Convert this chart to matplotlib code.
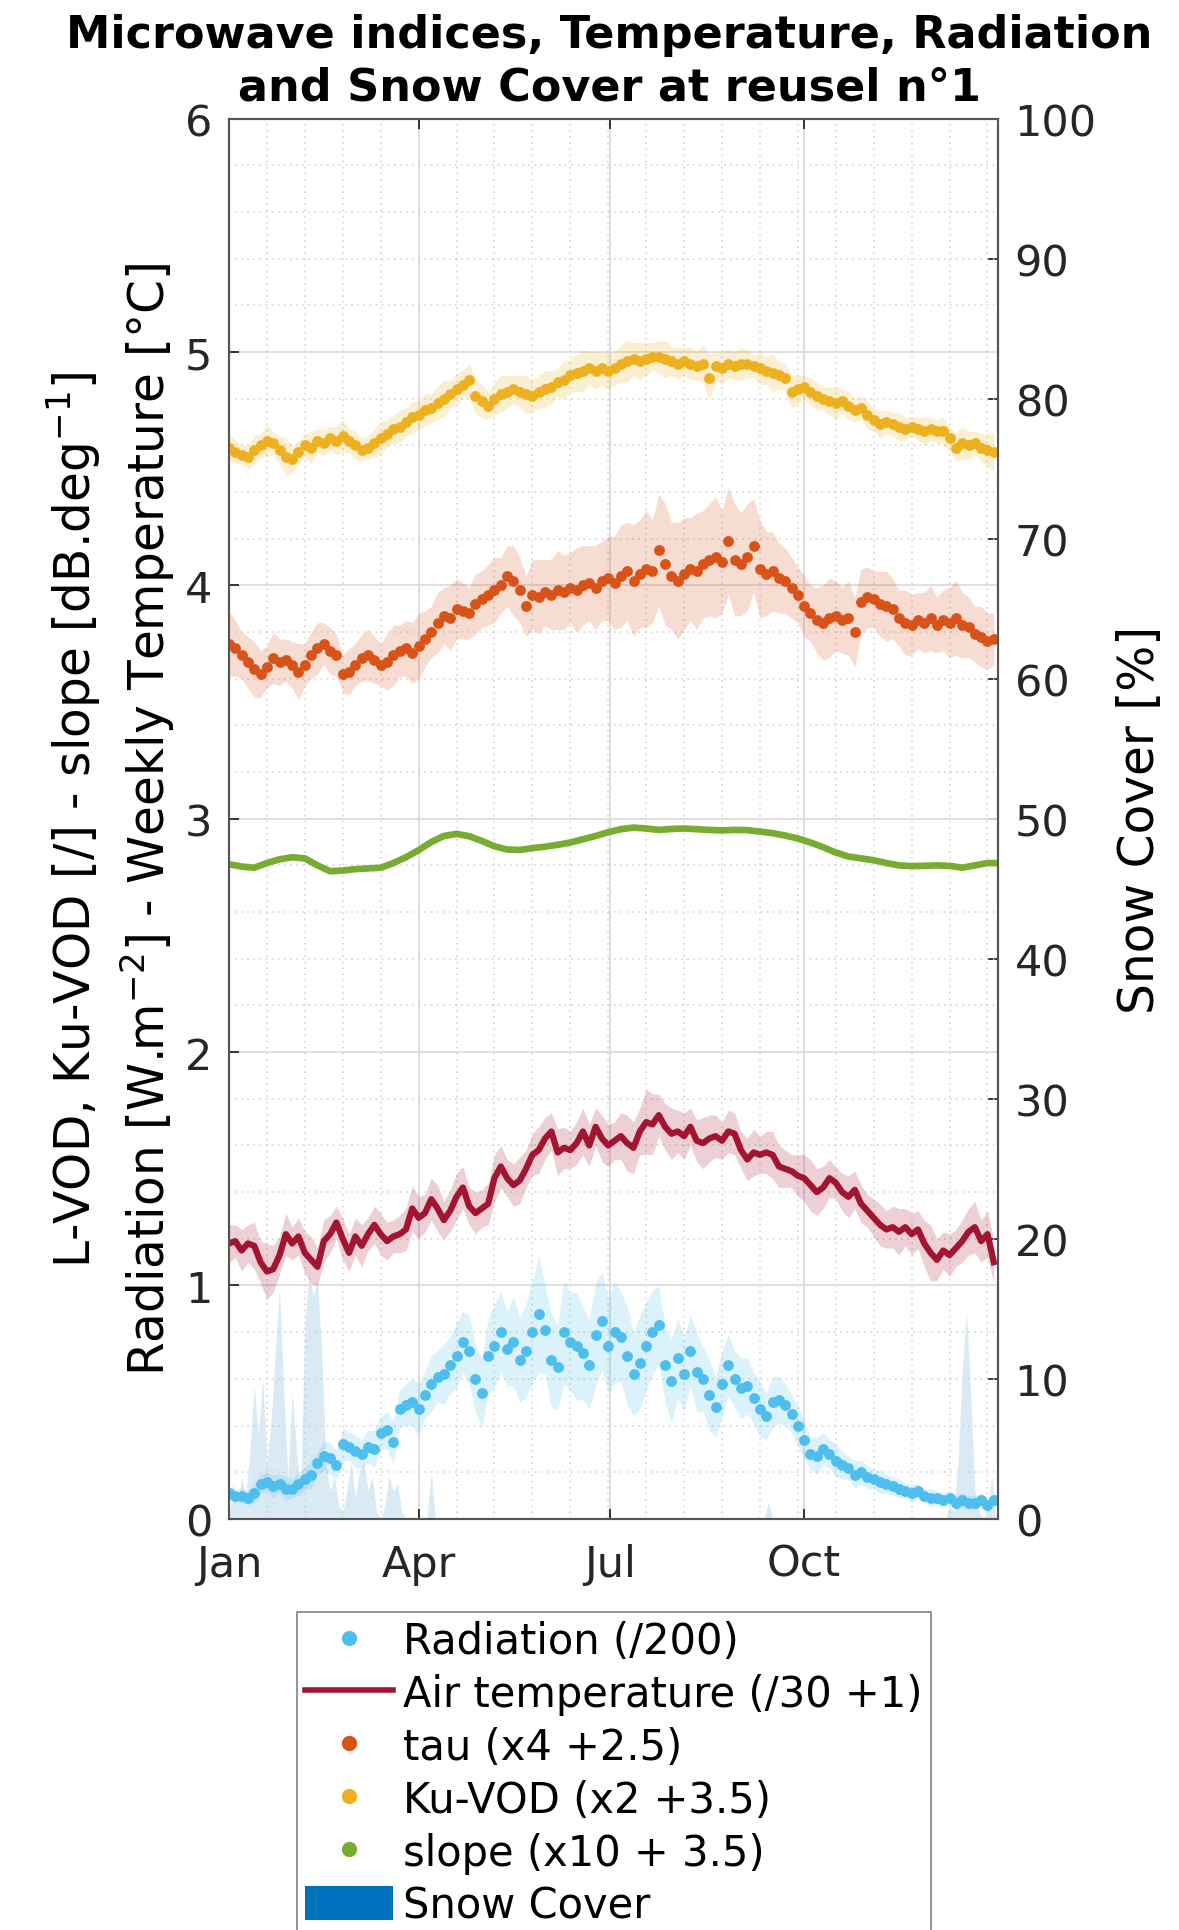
import numpy as np
import matplotlib
matplotlib.use("Agg")
import matplotlib.pyplot as plt
from matplotlib.lines import Line2D
from matplotlib.patches import Patch
from matplotlib.ticker import AutoMinorLocator

# ---- data (day of year, every 3 days) ----
days = np.arange(0, 364, 3)

radiation = [0.11, 0.10, 0.10, 0.09, 0.11, 0.15, 0.16, 0.14, 0.15, 0.13,
             0.13, 0.15, 0.17, 0.19, 0.24, 0.27, 0.26, 0.23, 0.32, 0.31,
             0.29, 0.28, 0.31, 0.30, 0.37, 0.38, 0.33, 0.47, 0.49, 0.50,
             0.47, 0.53, 0.58, 0.61, 0.62, 0.66, 0.70, 0.76, 0.72, 0.60,
             0.54, 0.70, 0.74, 0.80, 0.73, 0.76, 0.68, 0.72, 0.80, 0.88,
             0.81, 0.68, 0.65, 0.80, 0.76, 0.74, 0.71, 0.66, 0.79, 0.85,
             0.74, 0.80, 0.78, 0.70, 0.62, 0.67, 0.74, 0.80, 0.83, 0.66,
             0.59, 0.69, 0.62, 0.72, 0.63, 0.60, 0.53, 0.48, 0.58, 0.66,
             0.60, 0.56, 0.57, 0.52, 0.47, 0.44, 0.50, 0.51, 0.49, 0.45,
             0.40, 0.34, 0.28, 0.27, 0.30, 0.28, 0.25, 0.23, 0.22, 0.19,
             0.20, 0.18, 0.17, 0.16, 0.15, 0.14, 0.13, 0.12, 0.11, 0.12,
             0.10, 0.09, 0.09, 0.08, 0.09, 0.07, 0.08, 0.07, 0.07, 0.08,
             0.06, 0.08]
radiation_spread = [3, 3, 3, 3, 4, 4, 4, 5, 4, 5, 4, 5, 5, 6, 5, 6, 7, 6, 7, 6,
                    7, 6, 7, 8, 7, 8, 9, 8, 9, 10, 11, 10, 12, 11, 13, 12, 14, 13, 15, 14,
                    15, 16, 18, 17, 16, 19, 18, 20, 22, 25, 19, 20, 18, 22, 21, 23, 20, 19, 22, 21,
                    20, 22, 19, 21, 18, 20, 19, 18, 17, 16, 18, 17, 16, 15, 17, 14, 15, 13, 14, 13,
                    12, 13, 12, 11, 12, 10, 11, 10, 9, 8, 9, 8, 7, 8, 7, 6, 7, 6, 5, 6,
                    5, 5, 4, 5, 4, 4, 4, 3, 4, 3, 3, 4, 3, 3, 3, 3, 3, 3, 3, 3, 3, 3]

temperature = [1.18, 1.19, 1.15, 1.18, 1.17, 1.10, 1.06, 1.07, 1.13, 1.22,
               1.18, 1.21, 1.14, 1.11, 1.08, 1.19, 1.22, 1.27, 1.20, 1.14,
               1.21, 1.17, 1.22, 1.26, 1.22, 1.19, 1.21, 1.22, 1.24, 1.33,
               1.29, 1.31, 1.37, 1.33, 1.28, 1.32, 1.38, 1.42, 1.34, 1.31,
               1.33, 1.35, 1.46, 1.51, 1.46, 1.43, 1.45, 1.50, 1.56, 1.58,
               1.63, 1.66, 1.57, 1.59, 1.58, 1.61, 1.66, 1.60, 1.68, 1.63,
               1.60, 1.62, 1.64, 1.61, 1.59, 1.66, 1.70, 1.69, 1.73, 1.68,
               1.65, 1.66, 1.64, 1.68, 1.62, 1.61, 1.63, 1.64, 1.62, 1.66,
               1.65, 1.58, 1.54, 1.57, 1.56, 1.57, 1.56, 1.51, 1.50, 1.49,
               1.47, 1.46, 1.43, 1.40, 1.42, 1.46, 1.44, 1.40, 1.38, 1.41,
               1.35, 1.32, 1.29, 1.26, 1.24, 1.25, 1.23, 1.25, 1.22, 1.24,
               1.18, 1.14, 1.11, 1.15, 1.13, 1.16, 1.19, 1.23, 1.25, 1.19,
               1.22, 1.10]
temperature_spread = [8, 7, 9, 8, 10, 9, 12, 10, 8, 9, 7, 8, 9, 10, 8, 9, 8, 7, 9, 8,
                      8, 9, 7, 8, 9, 8, 7, 8, 9, 10, 9, 8, 9, 10, 8, 9, 10, 9, 8, 9,
                      8, 9, 10, 9, 8, 9, 10, 8, 9, 10, 9, 8, 10, 9, 8, 9, 10, 9, 8, 10,
                      9, 8, 10, 12, 11, 10, 14, 13, 9, 10, 11, 9, 10, 8, 9, 11, 10, 9, 8, 9,
                      9, 8, 9, 10, 8, 9, 10, 9, 8, 7, 9, 10, 11, 10, 9, 8, 7, 8, 9, 8,
                      8, 7, 8, 9, 8, 9, 10, 8, 9, 8, 10, 12, 9, 8, 9, 8, 9, 10, 11, 9, 10, 9]

tau = [3.75, 3.73, 3.70, 3.67, 3.64, 3.62, 3.65, 3.69, 3.67, 3.68,
       3.66, 3.63, 3.66, 3.70, 3.73, 3.75, 3.72, 3.70, 3.62, 3.63,
       3.66, 3.69, 3.70, 3.68, 3.66, 3.67, 3.70, 3.72, 3.73, 3.71,
       3.74, 3.77, 3.80, 3.84, 3.87, 3.86, 3.90, 3.89, 3.88, 3.92,
       3.94, 3.96, 3.98, 4.00, 4.04, 4.02, 3.98, 3.91, 3.96, 3.95,
       3.97, 3.96, 3.98, 3.97, 3.99, 3.98, 4.00, 4.01, 3.99, 4.02,
       4.03, 4.01, 4.04, 4.06, 4.02, 4.05, 4.07, 4.06, 4.15, 4.09,
       4.04, 4.02, 4.05, 4.07, 4.06, 4.09, 4.11, 4.12, 4.10, 4.19,
       4.11, 4.09, 4.12, 4.17, 4.07, 4.05, 4.06, 4.03, 4.02, 3.99,
       3.96, 3.91, 3.88, 3.85, 3.84, 3.86, 3.87, 3.85, 3.86, 3.80,
       3.93, 3.95, 3.94, 3.92, 3.91, 3.90, 3.86, 3.84, 3.83, 3.85,
       3.84, 3.86, 3.83, 3.85, 3.84, 3.86, 3.83, 3.82, 3.79, 3.78,
       3.76, 3.77]
tau_spread = [14, 12, 10, 11, 12, 10, 9, 11, 10, 9, 10, 12, 9, 10, 11, 9, 10, 9, 8, 10,
              9, 10, 11, 10, 9, 12, 13, 11, 12, 13, 14, 12, 11, 13, 12, 14, 13, 12, 11, 13,
              12, 13, 14, 12, 13, 15, 14, 13, 15, 16, 14, 15, 17, 16, 15, 18, 17, 16, 18, 17,
              18, 20, 22, 21, 24, 23, 25, 22, 24, 26, 23, 25, 24, 22, 25, 23, 24, 26, 22, 23,
              24, 22, 23, 20, 21, 18, 17, 15, 14, 13, 12, 13, 12, 14, 16, 17, 15, 14, 16, 15,
              14, 13, 12, 14, 15, 13, 12, 14, 13, 12, 13, 14, 12, 13, 15, 16, 14, 13, 12, 13, 12, 11]

ku_vod = [4.59, 4.57, 4.56, 4.55, 4.58, 4.60, 4.62, 4.61, 4.58, 4.55,
          4.54, 4.57, 4.60, 4.59, 4.62, 4.61, 4.63, 4.62, 4.64, 4.62,
          4.60, 4.58, 4.59, 4.61, 4.63, 4.65, 4.67, 4.68, 4.70, 4.72,
          4.73, 4.75, 4.76, 4.78, 4.80, 4.82, 4.84, 4.86, 4.88, 4.81,
          4.79, 4.77, 4.80, 4.82, 4.83, 4.84, 4.83, 4.82, 4.81, 4.83,
          4.84, 4.85, 4.87, 4.88, 4.90, 4.91, 4.92, 4.93, 4.92, 4.93,
          4.92, 4.93, 4.95, 4.96, 4.97, 4.96, 4.97, 4.98, 4.98, 4.97,
          4.96, 4.95, 4.96, 4.95, 4.94, 4.95, 4.89, 4.94, 4.93, 4.95,
          4.94, 4.95, 4.95, 4.94, 4.93, 4.92, 4.91, 4.90, 4.89, 4.83,
          4.84, 4.85, 4.83, 4.81, 4.80, 4.79, 4.78, 4.79, 4.77, 4.75,
          4.76, 4.73, 4.71, 4.69, 4.70, 4.69, 4.68, 4.67, 4.68, 4.67,
          4.66, 4.67, 4.66, 4.66, 4.63, 4.59, 4.61, 4.60, 4.61, 4.59,
          4.58, 4.57]
ku_spread = [6, 5, 4, 5, 6, 5, 7, 5, 6, 8, 6, 5, 5, 7, 5, 6, 5, 6, 7, 5,
             6, 5, 5, 6, 7, 6, 6, 7, 6, 7, 6, 7, 6, 7, 8, 6, 7, 6, 7, 8,
             7, 6, 7, 8, 7, 6, 7, 8, 7, 7, 8, 7, 6, 8, 7, 8, 9, 7, 8, 7,
             8, 7, 8, 9, 7, 8, 7, 6, 7, 8, 6, 7, 6, 7, 6, 8, 10, 6, 7, 6,
             6, 7, 6, 5, 7, 6, 8, 6, 6, 7, 6, 5, 6, 6, 5, 6, 7, 5, 6, 5,
             5, 6, 5, 6, 5, 5, 6, 5, 4, 5, 6, 5, 5, 6, 5, 6, 7, 6, 5, 6, 7, 8]

slope_days = [0, 6, 12, 18, 24, 30, 36, 42, 48, 54, 60, 66, 72, 78, 84, 90, 96, 102,
              108, 114, 120, 126, 132, 138, 144, 150, 156, 162, 168, 174, 180, 186,
              192, 198, 204, 210, 216, 222, 228, 234, 240, 246, 252, 258, 264, 270,
              276, 282, 288, 294, 300, 306, 312, 318, 324, 330, 336, 342, 348, 354,
              360, 365]
slope = [2.805, 2.795, 2.790, 2.810, 2.826, 2.835, 2.830, 2.800, 2.775, 2.778,
         2.784, 2.787, 2.790, 2.810, 2.835, 2.865, 2.900, 2.926, 2.935, 2.925,
         2.905, 2.882, 2.868, 2.866, 2.874, 2.880, 2.888, 2.898, 2.912, 2.926,
         2.942, 2.955, 2.962, 2.958, 2.952, 2.956, 2.958, 2.955, 2.952, 2.950,
         2.952, 2.951, 2.945, 2.938, 2.928, 2.915, 2.898, 2.878, 2.855, 2.838,
         2.830, 2.822, 2.810, 2.800, 2.797, 2.798, 2.800, 2.798, 2.790, 2.800,
         2.810, 2.810]

snow_days = [0, 2, 4, 6, 8, 10, 12, 14, 16, 18, 20, 22, 24, 26, 28, 30, 32, 34, 36,
             38, 40, 42, 44, 46, 48, 50, 52, 54, 56, 58, 60, 62, 64, 66, 68, 70, 72,
             74, 76, 78, 80, 82, 84, 94, 96, 98, 254, 256, 258, 340, 342, 344, 346,
             348, 350, 352, 354, 356, 358, 360, 362, 364]
snow_cover = [0, 2.5, 1.0, 3.0, 1.5, 5.0, 9.5, 6.0, 10.0, 4.0, 7.0, 12.0, 16.5, 9.0,
              3.0, 9.0, 5.0, 2.0, 14.0, 17.5, 16.0, 17.0, 12.0, 4.0, 2.0, 3.0, 1.0,
              0.5, 2.0, 4.0, 1.5, 3.5, 4.0, 2.0, 3.0, 0.5, 0, 1.0, 3.0, 2.0, 2.5, 0.5,
              0, 0, 3.3, 0, 0, 1.2, 0, 0, 1.0, 0.5, 4.0, 10.5, 14.8, 9.0, 2.0, 0.5,
              0, 0.5, 3.0, 0]

month_ticks = [0, 90, 181, 273]
month_labels = ['Jan', 'Apr', 'Jul', 'Oct']

# colours (Matlab default order)
c_rad = '#4DBEEE'
c_temp = '#A2142F'
c_tau = '#D95319'
c_ku = '#EDB120'
c_slope = '#77AC30'
c_snow = '#0072BD'

fig = plt.figure(figsize=(11.79, 19.31), dpi=100)
ax = fig.add_axes([0.1942, 0.2129, 0.6523, 0.7252])
ax2 = ax.twinx()
ax.set_zorder(ax2.get_zorder() + 1)
ax.patch.set_visible(False)

# snow cover on the right axis
ax2.fill_between(snow_days, 0, snow_cover, color=c_snow, alpha=0.15, lw=0)
ax2.set_ylim(0, 100)
ax2.set_yticks(range(0, 101, 10))

def band_and_dots(values, spread, color):
    v = np.array(values)
    s = np.array(spread) / 100.0
    ax.fill_between(days, v - s, v + s, color=color, alpha=0.2, lw=0)
    ax.plot(days, v, 'o', color=color, markersize=7.8, markeredgewidth=0)

band_and_dots(radiation, radiation_spread, c_rad)
t = np.array(temperature)
ts = np.array(temperature_spread) / 100.0
ax.fill_between(days, t - ts, t + ts, color=c_temp, alpha=0.2, lw=0)
ax.plot(days, t, color=c_temp, lw=4.5)
band_and_dots(tau, tau_spread, c_tau)
band_and_dots(ku_vod, ku_spread, c_ku)
ax.plot(slope_days, slope, color=c_slope, lw=4.8, solid_capstyle='round')

ax.set_xlim(0, 365)
ax.set_ylim(0, 6)
ax.set_xticks(month_ticks)
ax.set_xticklabels(month_labels)
ax.set_yticks(range(0, 7))
ax.xaxis.set_minor_locator(AutoMinorLocator(5))
ax.yaxis.set_minor_locator(AutoMinorLocator(5))
ax.grid(True, which='major', color='#dcdcdc', lw=1.3, ls='-')
ax.grid(True, which='minor', color='#cfcfcf', lw=1.1, ls=(0, (1, 3)))
ax.set_axisbelow(True)

ax.tick_params(which='major', direction='in', length=7, width=1.3, labelsize=31,
               colors='#262626', top=True, right=False, pad=12)
ax.tick_params(axis='x', pad=17)
ax.tick_params(which='minor', length=0, top=True, right=False)
ax2.tick_params(direction='in', length=7, width=1.3, labelsize=31,
                colors='#262626', pad=12)
for a in (ax, ax2):
    for sp in a.spines.values():
        sp.set_color('#555555')
        sp.set_linewidth(1.5)

fig.text(0.517, 0.9815, 'Microwave indices, Temperature, Radiation',
         ha='center', va='center', fontsize=32, fontweight='bold')
fig.text(0.517, 0.9543, 'and Snow Cover at reusel n°1',
         ha='center', va='center', fontsize=32, fontweight='bold')

fig.text(0.0628, 0.5754, 'L-VOD, Ku-VOD [/] - slope [dB.deg$^{-1}$]',
         rotation=90, ha='center', va='center', fontsize=35)
fig.text(0.1255, 0.5754, 'Radiation [W.m$^{-2}$] - Weekly Temperature [°C]',
         rotation=90, ha='center', va='center', fontsize=35)
fig.text(0.967, 0.5754, 'Snow Cover [%]', rotation=90, ha='center', va='center',
         fontsize=35)

handles = [
    Line2D([], [], ls='none', marker='o', color=c_rad, markersize=11, markeredgewidth=0),
    Line2D([], [], color=c_temp, lw=4),
    Line2D([], [], ls='none', marker='o', color=c_tau, markersize=11, markeredgewidth=0),
    Line2D([], [], ls='none', marker='o', color=c_ku, markersize=11, markeredgewidth=0),
    Line2D([], [], ls='none', marker='o', color=c_slope, markersize=11, markeredgewidth=0),
    Patch(facecolor=c_snow, edgecolor='none'),
]
labels = ['Radiation (/200)', 'Air temperature (/30 +1)', 'tau (x4 +2.5)',
          'Ku-VOD (x2 +3.5)', 'slope (x10 + 3.5)', 'Snow Cover']
leg = fig.legend(handles, labels, loc='upper left',
                 bbox_to_anchor=(297 / 1179, 1 - 1613 / 1931), fontsize=30,
                 frameon=True, fancybox=False, edgecolor='#8c8c8c', framealpha=1,
                 borderpad=0.2, labelspacing=0.26, handlelength=2.1,
                 handletextpad=0.25, handleheight=0.9, borderaxespad=0)
leg.get_frame().set_linewidth(1.3)

fig.savefig('out.png', dpi=100)
